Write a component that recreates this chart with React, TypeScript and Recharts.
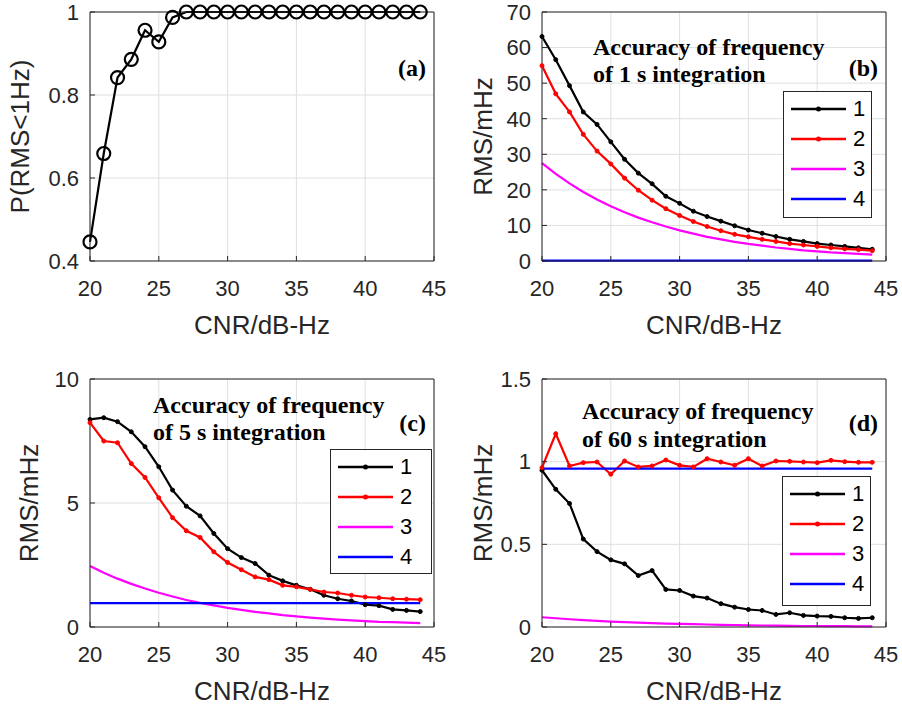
import { CartesianGrid, Legend, Line, LineChart, XAxis, YAxis } from "recharts";

const cnr = [20, 21, 22, 23, 24, 25, 26, 27, 28, 29, 30, 31, 32, 33, 34, 35, 36, 37, 38, 39, 40, 41, 42, 43, 44];
const xTicks = [20, 25, 30, 35, 40, 45];

// (a) probability RMS < 1 Hz
const probA = [0.446, 0.659, 0.842, 0.886, 0.956, 0.928, 0.987, 1, 1, 1, 1, 1, 1, 1, 1, 1, 1, 1, 1, 1, 1, 1, 1, 1, 1];

// (b) 1 s integration
const b1 = [63.1, 56.6, 49.3, 41.9, 38.4, 33.5, 28.6, 24.7, 21.7, 18.2, 16.2, 14.0, 12.5, 11.2, 9.9, 8.7, 7.8, 6.9, 6.1, 5.5, 4.9, 4.5, 4.1, 3.7, 3.3];
const b2 = [54.9, 47.0, 41.9, 35.6, 30.9, 27.3, 23.3, 19.9, 17.1, 14.7, 12.8, 11.1, 9.7, 8.5, 7.5, 6.8, 6.1, 5.5, 4.9, 4.5, 4.1, 3.7, 3.4, 3.2, 2.9];
const b3 = [27.5, 24.5, 21.8, 19.4, 17.3, 15.4, 13.7, 12.2, 10.9, 9.7, 8.6, 7.7, 6.8, 6.1, 5.4, 4.8, 4.3, 3.8, 3.4, 3.0, 2.7, 2.4, 2.2, 2.0, 1.8];
const b4 = [0.1, 0.1, 0.1, 0.1, 0.1, 0.1, 0.1, 0.1, 0.1, 0.1, 0.1, 0.1, 0.1, 0.1, 0.1, 0.1, 0.1, 0.1, 0.1, 0.1, 0.1, 0.1, 0.1, 0.1, 0.1];

// (c) 5 s integration
const c1 = [8.37, 8.44, 8.28, 7.87, 7.27, 6.46, 5.52, 4.87, 4.48, 3.77, 3.16, 2.8, 2.56, 2.09, 1.86, 1.68, 1.52, 1.28, 1.14, 1.05, 0.9, 0.86, 0.71, 0.67, 0.62];
const c2 = [8.24, 7.5, 7.43, 6.59, 6.03, 5.21, 4.41, 3.88, 3.61, 3.03, 2.6, 2.31, 2.02, 1.91, 1.68, 1.62, 1.52, 1.41, 1.37, 1.28, 1.21, 1.18, 1.14, 1.12, 1.1];
const c3 = [2.46, 2.19, 1.95, 1.74, 1.55, 1.38, 1.23, 1.09, 0.97, 0.87, 0.77, 0.69, 0.61, 0.55, 0.48, 0.43, 0.38, 0.34, 0.3, 0.27, 0.24, 0.21, 0.2, 0.18, 0.16];
const c4 = [0.96, 0.96, 0.96, 0.96, 0.96, 0.96, 0.96, 0.96, 0.96, 0.96, 0.96, 0.96, 0.96, 0.96, 0.96, 0.96, 0.96, 0.96, 0.96, 0.96, 0.96, 0.96, 0.96, 0.96, 0.96];

// (d) 60 s integration
const d1 = [0.948, 0.833, 0.747, 0.532, 0.456, 0.406, 0.382, 0.311, 0.341, 0.227, 0.221, 0.187, 0.175, 0.141, 0.12, 0.106, 0.1, 0.076, 0.086, 0.07, 0.066, 0.064, 0.056, 0.052, 0.056];
const d2 = [0.964, 1.169, 0.974, 0.994, 0.998, 0.924, 1.004, 0.968, 0.974, 1.01, 0.978, 0.968, 1.018, 0.998, 0.978, 1.018, 0.974, 1.004, 1.002, 0.998, 0.994, 1.008, 1.0, 0.996, 0.996];
const d3 = [0.059, 0.053, 0.047, 0.042, 0.037, 0.033, 0.029, 0.026, 0.023, 0.021, 0.019, 0.017, 0.015, 0.013, 0.012, 0.01, 0.009, 0.008, 0.007, 0.006, 0.006, 0.005, 0.005, 0.004, 0.004];
const d4 = [0.958, 0.958, 0.958, 0.958, 0.958, 0.958, 0.958, 0.958, 0.958, 0.958, 0.958, 0.958, 0.958, 0.958, 0.958, 0.958, 0.958, 0.958, 0.958, 0.958, 0.958, 0.958, 0.958, 0.958, 0.958];

const seriesNames = ["1", "2", "3", "4"];
const seriesColors = ["#000000", "#ff0000", "#ff00ff", "#0000ff"];
const seriesDots = [true, true, false, false];

const axisColor = "#262626";
const gridColor = "#dfdfdf";
const sans = "'Liberation Sans', Arial, Helvetica, sans-serif";
const serif = "'Liberation Serif', 'Times New Roman', serif";

type Series = { key: string; name: string; color: string; values: number[]; dot: boolean };

function makeSeries(values: number[][]): Series[] {
  return values.map((v, i) => ({ key: "s" + (i + 1), name: seriesNames[i], color: seriesColors[i], values: v, dot: seriesDots[i] }));
}

function rows(series: Series[]) {
  return cnr.map((x, i) => {
    const r: Record<string, number> = { cnr: x };
    series.forEach((s) => (r[s.key] = s.values[i]));
    return r;
  });
}

function LegendBox({ series, width, height }: { series: Series[]; width: number; height: number }) {
  return (
    <div style={{ width, height, border: `1px solid ${axisColor}`, background: "#fff", boxSizing: "border-box", paddingTop: 2 }}>
      {series.map((s) => (
        <div key={s.key} style={{ display: "flex", alignItems: "center", height: 30 }}>
          <svg width={62} height={12} style={{ display: "block" }}>
            <line x1={7} y1={6} x2={62} y2={6} stroke={s.color} strokeWidth={2.5} />
            {s.dot && <circle cx={34.5} cy={6} r={2.5} fill={s.color} />}
          </svg>
          <span style={{ fontFamily: sans, fontSize: 22, color: "#000", marginLeft: 7, lineHeight: "22px" }}>{s.name}</span>
        </div>
      ))}
    </div>
  );
}

type PanelProps = {
  left: number;
  top: number;
  height: number;
  xHeight: number;
  yDomain: number[];
  yTicks: number[];
  yLabel: string;
  yLabelOffset: number;
  xLabelOffset: number;
  series: Series[];
  circles?: boolean;
  legend?: { x: number; y: number; w: number; h: number };
};

function Panel(p: PanelProps) {
  const data = rows(p.series);
  const tickStyle = { fontSize: 22, fill: axisColor, fontFamily: sans };
  const labelStyle = { fontSize: 26, fill: axisColor, fontFamily: sans, textAnchor: "middle" as const };
  return (
    <div style={{ position: "absolute", left: p.left, top: p.top }}>
      <LineChart width={450} height={p.height} data={data} margin={{ top: 11, right: 15, bottom: 0, left: 0 }}>
        <CartesianGrid stroke={gridColor} strokeWidth={1} />
        <XAxis
          dataKey="cnr"
          type="number"
          domain={[20, 45]}
          ticks={xTicks}
          interval={0}
          height={p.xHeight}
          tick={tickStyle}
          tickSize={-5}
          tickMargin={24}
          stroke={axisColor}
          label={{ value: "CNR/dB-Hz", position: "insideBottom", offset: p.xLabelOffset, style: labelStyle }}
        />
        <XAxis xAxisId="top" orientation="top" dataKey="cnr" type="number" domain={[20, 45]} ticks={xTicks} height={1} tick={false} tickSize={-5} stroke={axisColor} />
        <YAxis
          type="number"
          domain={p.yDomain}
          ticks={p.yTicks}
          interval={0}
          width={90}
          tick={tickStyle}
          tickSize={-5}
          tickMargin={16}
          stroke={axisColor}
          label={{ value: p.yLabel, angle: -90, position: "insideLeft", offset: p.yLabelOffset, style: labelStyle }}
        />
        <YAxis yAxisId="right" orientation="right" type="number" domain={p.yDomain} ticks={p.yTicks} width={1} tick={false} tickSize={-5} stroke={axisColor} />
        {p.series.map((s) => (
          <Line
            key={s.key}
            dataKey={s.key}
            name={s.name}
            type="linear"
            stroke={s.color}
            strokeWidth={2.2}
            dot={
              p.circles
                ? { r: 6.5, stroke: s.color, strokeWidth: 2.2, fill: "none" }
                : s.dot
                ? { r: 2, stroke: s.color, strokeWidth: 1, fill: s.color }
                : false
            }
            activeDot={false}
            isAnimationActive={false}
          />
        ))}
        {p.legend && (
          <Legend
            layout="vertical"
            align="center"
            verticalAlign="middle"
            wrapperStyle={{ left: p.legend.x, top: p.legend.y, width: p.legend.w, height: p.legend.h }}
            content={() => <LegendBox series={p.series} width={p.legend!.w} height={p.legend!.h} />}
          />
        )}
      </LineChart>
    </div>
  );
}

function Note({ text, x, y, right }: { text: string; x: number; y: number; right?: boolean }) {
  return (
    <div
      style={{
        position: "absolute",
        top: y - 20,
        ...(right ? { right: 902 - x } : { left: x }),
        fontFamily: serif,
        fontWeight: "bold",
        fontSize: 24,
        lineHeight: "24px",
        color: "#000",
        whiteSpace: "nowrap",
      }}
    >
      {text}
    </div>
  );
}

export default function App() {
  const seriesA: Series[] = [{ key: "p", name: "P", color: "#000000", values: probA, dot: true }];
  return (
    <div style={{ position: "absolute", left: 0, top: 0, width: 902, height: 709, background: "#fff", overflow: "hidden" }}>
      <Panel left={0} top={0} height={340} xHeight={79} yDomain={[0.4, 1]} yTicks={[0.4, 0.6, 0.8, 1]} yLabel="P(RMS<1Hz)" yLabelOffset={20} xLabelOffset={6} series={seriesA} circles />
      <Panel
        left={452}
        top={0}
        height={340}
        xHeight={79}
        yDomain={[0, 70]}
        yTicks={[0, 10, 20, 30, 40, 50, 60, 70]}
        yLabel="RMS/mHz"
        yLabelOffset={31}
        xLabelOffset={6}
        series={makeSeries([b1, b2, b3, b4])}
        legend={{ x: 331, y: 91, w: 89, h: 127 }}
      />
      <Panel
        left={0}
        top={367}
        height={342}
        xHeight={82}
        yDomain={[0, 10]}
        yTicks={[0, 5, 10]}
        yLabel="RMS/mHz"
        yLabelOffset={29}
        xLabelOffset={9}
        series={makeSeries([c1, c2, c3, c4])}
        legend={{ x: 330, y: 82, w: 102, h: 125 }}
      />
      <Panel
        left={452}
        top={367}
        height={342}
        xHeight={82}
        yDomain={[0, 1.5]}
        yTicks={[0, 0.5, 1, 1.5]}
        yLabel="RMS/mHz"
        yLabelOffset={31}
        xLabelOffset={9}
        series={makeSeries([d1, d2, d3, d4])}
        legend={{ x: 330, y: 109, w: 89, h: 130 }}
      />
      <Note text="(a)" x={426} y={76} right />
      <Note text="(b)" x={878} y={76} right />
      <Note text="(c)" x={426} y={431} right />
      <Note text="(d)" x={878} y={431} right />
      <Note text="Accuracy of frequency" x={593} y={55} />
      <Note text="of 1 s integration" x={593} y={82} />
      <Note text="Accuracy of frequency" x={153} y={413} />
      <Note text="of 5 s integration" x={153} y={440} />
      <Note text="Accuracy of frequency" x={582} y={419} />
      <Note text="of 60 s integration" x={582} y={447} />
    </div>
  );
}
